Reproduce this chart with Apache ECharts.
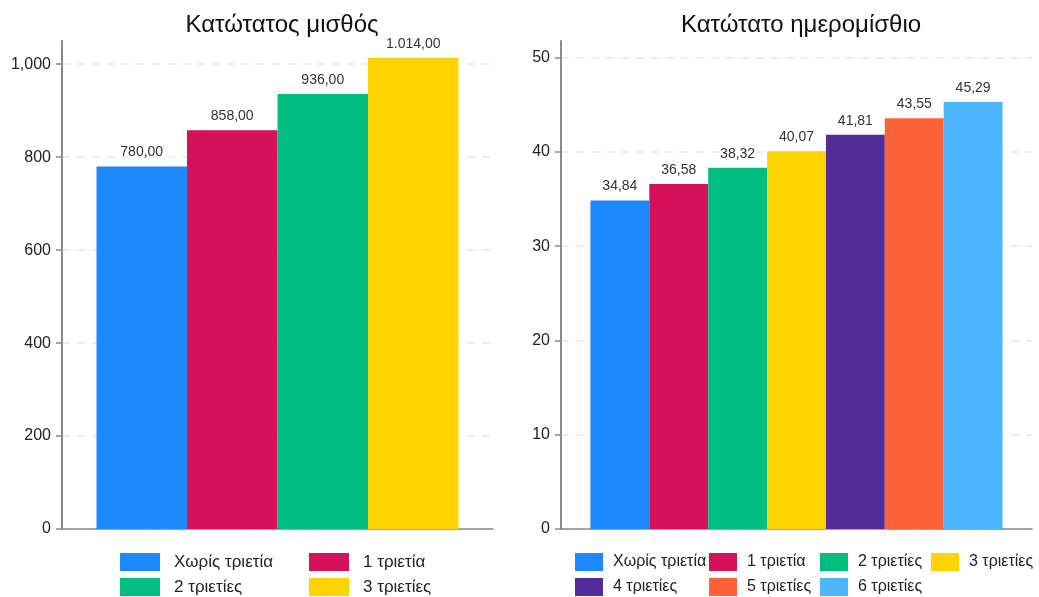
<!DOCTYPE html>
<html>
<head>
<meta charset="utf-8">
<script src="https://cdn.jsdelivr.net/npm/echarts@6/dist/echarts.min.js"></script>
<style>
  html, body { margin: 0; padding: 0; background: #fff; }
  #chart { width: 1039px; height: 597px; }
</style>
</head>
<body>
<div id="chart"></div>
<script>
// Κατώτατος μισθός
const salaryNames = ['Χωρίς τριετία', '1 τριετία', '2 τριετίες', '3 τριετίες']
const salaryValues = [780, 858, 936, 1014]
const salaryTicks = [0, 200, 400, 600, 800, 1000]

// Κατώτατο ημερομίσθιο
const wageNames = ['Χωρίς τριετία', '1 τριετία', '2 τριετίες', '3 τριετίες', '4 τριετίες', '5 τριετίες', '6 τριετίες']
const wageValues = [34.84, 36.58, 38.32, 40.07, 41.81, 43.55, 45.29]
const wageTicks = [0, 10, 20, 30, 40, 50]

const colors = ['#1E88FF', '#D41159', '#00BE7F', '#FFD400', '#522D98', '#FF6236', '#4DB6FF']
const FONT = '"Liberation Sans", Arial, sans-serif'

// 1014 -> "1.014,00"
const greekNum = (v) => {
  const [int, dec] = v.toFixed(2).split('.')
  return int.replace(/\B(?=(\d{3})+(?!\d))/g, '.') + ',' + dec
}
const axisNum = (v) => String(v).replace(/\B(?=(\d{3})+(?!\d))/g, ',')

const yAxisBase = (gridIndex, max, ticks) => ({
  type: 'value', gridIndex, min: 0, max,
  axisLine: { show: true, lineStyle: { color: '#8a8a8a', width: 2 } },
  axisTick: { show: true, length: 6, customValues: ticks, lineStyle: { color: '#8a8a8a', width: 1.5 } },
  axisLabel: { customValues: ticks, formatter: axisNum, color: '#222', fontSize: 16, fontFamily: FONT, margin: 11 },
  splitLine: { show: true, lineStyle: { color: '#e8e8e8', type: [8, 7], width: 1.5 } }
})

const xAxisBase = (gridIndex) => ({
  type: 'category', gridIndex, data: [''],
  axisLine: { show: true, lineStyle: { color: '#8a8a8a', width: 1.5 } },
  axisTick: { show: false }, axisLabel: { show: false }
})

const barSeries = (name, value, i, axisIndex, gap) => ({
  name, type: 'bar', xAxisIndex: axisIndex, yAxisIndex: axisIndex,
  data: [value], barGap: 0, barCategoryGap: gap,
  itemStyle: { color: colors[i] },
  label: {
    show: true, position: 'top', distance: 7,
    formatter: (p) => greekNum(p.value), color: '#333', fontSize: 14, fontFamily: FONT
  }
})

// legends placed in fixed columns, one item each
const legendItem = (name, left, top, iconW, fontSize, pad) => ({
  data: [name], left, top, itemWidth: iconW, itemHeight: 18,
  icon: 'rect', selectedMode: false,
  textStyle: { color: '#222', fontSize, fontFamily: FONT, padding: [0, 0, 0, pad] }
})

const leftCols = [115, 304]
const rightCols = [570, 704, 815, 926]
const rows = [548, 573]

const legends = [
  ...salaryNames.map((n, i) => legendItem(n, leftCols[i % 2], rows[Math.floor(i / 2)], 40, 17, 9)),
  ...wageNames.map((n, i) => legendItem(n, rightCols[i % 4], rows[Math.floor(i / 4)], 28, 16, 5))
]

const chart = echarts.init(document.getElementById('chart'))
chart.setOption({
  animation: false,
  title: [
    { text: 'Κατώτατος μισθός', left: 277, top: 8, textAlign: 'center',
      textStyle: { fontSize: 24, fontWeight: 'normal', color: '#111', fontFamily: FONT } },
    { text: 'Κατώτατο ημερομίσθιο', left: 796, top: 8, textAlign: 'center',
      textStyle: { fontSize: 24, fontWeight: 'normal', color: '#111', fontFamily: FONT } }
  ],
  legend: legends,
  grid: [
    { left: 62, right: 546, top: 41, bottom: 68 },
    { left: 561, right: 7, top: 41, bottom: 68 }
  ],
  xAxis: [xAxisBase(0), xAxisBase(1)],
  yAxis: [yAxisBase(0, 1050, salaryTicks), yAxisBase(1, 51.75, wageTicks)],
  series: [
    ...salaryNames.map((n, i) => barSeries(n, salaryValues[i], i, 0, '16%')),
    ...wageNames.map((n, i) => barSeries(n, wageValues[i], i, 1, '12.5%'))
  ]
})
</script>
</body>
</html>
